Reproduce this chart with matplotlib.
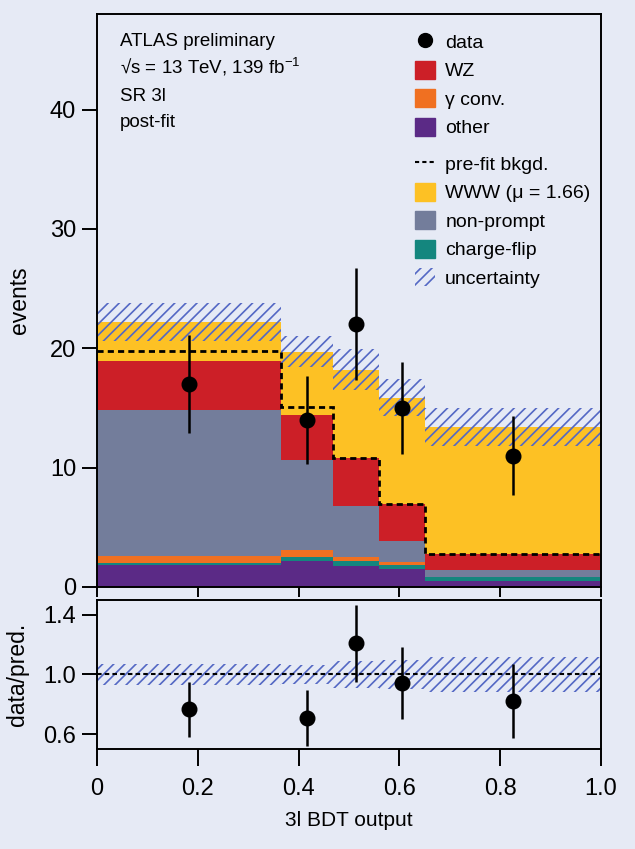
import numpy as np
import matplotlib
matplotlib.use("Agg")
import matplotlib.pyplot as plt
from matplotlib.patches import Patch
from matplotlib.lines import Line2D

# ---------------- data ----------------
bin_edges = [0.0, 0.366, 0.469, 0.559, 0.651, 1.0]
other = [1.82, 2.20, 1.79, 1.51, 0.53]
charge_flip = [0.22, 0.29, 0.41, 0.33, 0.34]
gamma_conv = [0.56, 0.61, 0.29, 0.23, 0.0]
non_prompt = [12.2, 7.5, 4.31, 1.81, 0.56]
wz = [4.1, 3.8, 4.0, 3.05, 1.31]
www = [3.3, 5.3, 7.4, 8.94, 10.66]
prefit_bkg = [19.8, 15.06, 10.8, 6.93, 2.74]
uncertainty = [1.6, 1.3, 1.7, 1.55, 1.6]
data_x = [0.183, 0.4175, 0.514, 0.605, 0.8255]
data_y = [17, 14, 22, 15, 11]
data_err = [4.1, 3.7, 4.7, 3.85, 3.3]
main_yticks = [0, 10, 20, 30, 40]
ratio_yticks = [0.6, 1.0, 1.4]
xticks = [0, 0.2, 0.4, 0.6, 0.8, 1.0]
xtick_labels = ["0", "0.2", "0.4", "0.6", "0.8", "1.0"]

# ---------------- style ----------------
BG = "#e6eaf5"
C_OTHER = "#5b2a86"
C_CF = "#14867e"
C_GC = "#f07021"
C_NP = "#737d9b"
C_WZ = "#cc1f27"
C_WWW = "#fdc124"
C_HATCH = "#5468c4"

plt.rcParams["font.family"] = ["Liberation Sans", "DejaVu Sans"]
plt.rcParams["mathtext.fontset"] = "custom"
plt.rcParams["mathtext.rm"] = "Liberation Sans"
plt.rcParams["mathtext.it"] = "Liberation Sans:italic"
plt.rcParams["hatch.linewidth"] = 1.2

fig = plt.figure(figsize=(6.35, 8.49), dpi=100, facecolor=BG)
ax = fig.add_axes([0.1528, 0.3086, 0.7937, 0.6749], facecolor=BG)
rax = fig.add_axes([0.1528, 0.1178, 0.7937, 0.1755], facecolor=BG)

edges = np.array(bin_edges)
components = [(other, C_OTHER), (charge_flip, C_CF), (gamma_conv, C_GC),
              (non_prompt, C_NP), (wz, C_WZ), (www, C_WWW)]
base = np.zeros(len(other))
for vals, col in components:
    top = base + np.array(vals)
    ax.stairs(top, edges, baseline=base.copy(), fill=True, color=col, lw=0)
    base = top
total = base

unc = np.array(uncertainty)
ax.stairs(total + unc, edges, baseline=total - unc, fill=True, hatch="///",
          facecolor="none", edgecolor=C_HATCH, lw=0)
ax.stairs(prefit_bkg, edges, baseline=None, color="black", lw=2.0,
          linestyle=(0, (2.2, 1.5)))

ax.errorbar(data_x, data_y, yerr=data_err, fmt="o", color="black",
            markersize=10.5, elinewidth=1.8, capsize=0)

ax.set_xlim(0, 1)
ax.set_ylim(0, 48)
ax.set_yticks(main_yticks)
ax.set_xticks(xticks)
ax.tick_params(axis="x", direction="out", length=7, width=1.4, labelbottom=False)
ax.tick_params(axis="y", direction="out", length=11, width=1.4, labelsize=17, pad=4)
for s in ax.spines.values():
    s.set_linewidth(1.4)
ax.set_ylabel("events", fontsize=16.5, labelpad=14)

# text block
ax.text(0.045, 0.944, "ATLAS preliminary", transform=ax.transAxes, fontsize=13.5, va="baseline")
ax.text(0.045, 0.896, "√s = 13 TeV, 139 fb$^{-1}$", transform=ax.transAxes, fontsize=13.5, va="baseline")
ax.text(0.045, 0.848, "SR 3l", transform=ax.transAxes, fontsize=13.5, va="baseline")
ax.text(0.045, 0.803, "post-fit", transform=ax.transAxes, fontsize=13.5, va="baseline")

# legends
h_data = Line2D([0.5, 0.5], [0, 1], marker="o", color="black", markersize=10,
                lw=1.5, linestyle="none")
leg1 = ax.legend(
    [h_data, Patch(color=C_WZ), Patch(color=C_GC), Patch(color=C_OTHER)],
    ["data", "WZ", "γ conv.", "other"],
    loc="upper left", bbox_to_anchor=(0.631, 0.968), frameon=False, fontsize=14,
    handlelength=1.05, handleheight=1.05, handletextpad=0.5, labelspacing=0.45,
    borderpad=0, borderaxespad=0)
ax.add_artist(leg1)
ax.legend(
    [Line2D([], [], color="black", lw=1.5, linestyle=(0, (2, 1.5))),
     Patch(color=C_WWW), Patch(color=C_NP), Patch(color=C_CF),
     Patch(facecolor="none", edgecolor=C_HATCH, hatch="///", lw=0)],
    ["pre-fit bkgd.", "WWW (μ = 1.66)", "non-prompt", "charge-flip", "uncertainty"],
    loc="upper left", bbox_to_anchor=(0.631, 0.755), frameon=False, fontsize=14,
    handlelength=1.05, handleheight=1.05, handletextpad=0.5, labelspacing=0.45,
    borderpad=0, borderaxespad=0)

# ---------------- ratio ----------------
rel = unc / total
rax.stairs(1 + rel, edges, baseline=1 - rel, fill=True, hatch="///",
           facecolor="none", edgecolor=C_HATCH, lw=0)
rax.axhline(1.0, color="black", lw=1.5, linestyle=(0, (2.2, 1.5)))
bin_idx = np.searchsorted(edges, data_x) - 1
ratio = np.array(data_y) / total[bin_idx]
ratio_err = np.array(data_err) / total[bin_idx]
rax.errorbar(data_x, ratio, yerr=ratio_err, fmt="o", color="black",
             markersize=10.5, elinewidth=1.8, capsize=0)
rax.set_xlim(0, 1)
rax.set_ylim(0.5, 1.5)
rax.set_yticks(ratio_yticks)
rax.set_yticklabels(["0.6", "1.0", "1.4"])
rax.set_xticks(xticks)
rax.set_xticklabels(xtick_labels)
rax.tick_params(axis="x", direction="out", length=12, width=1.4, labelsize=17, pad=9)
rax.tick_params(axis="y", direction="out", length=11, width=1.4, labelsize=17, pad=4)
for s in rax.spines.values():
    s.set_linewidth(1.4)
rax.set_ylabel("data/pred.", fontsize=16.5, labelpad=10)
rax.set_xlabel("3l BDT output", fontsize=15, labelpad=8)

fig.align_ylabels([ax, rax])
fig.savefig("out.png", dpi=100, facecolor=BG)
